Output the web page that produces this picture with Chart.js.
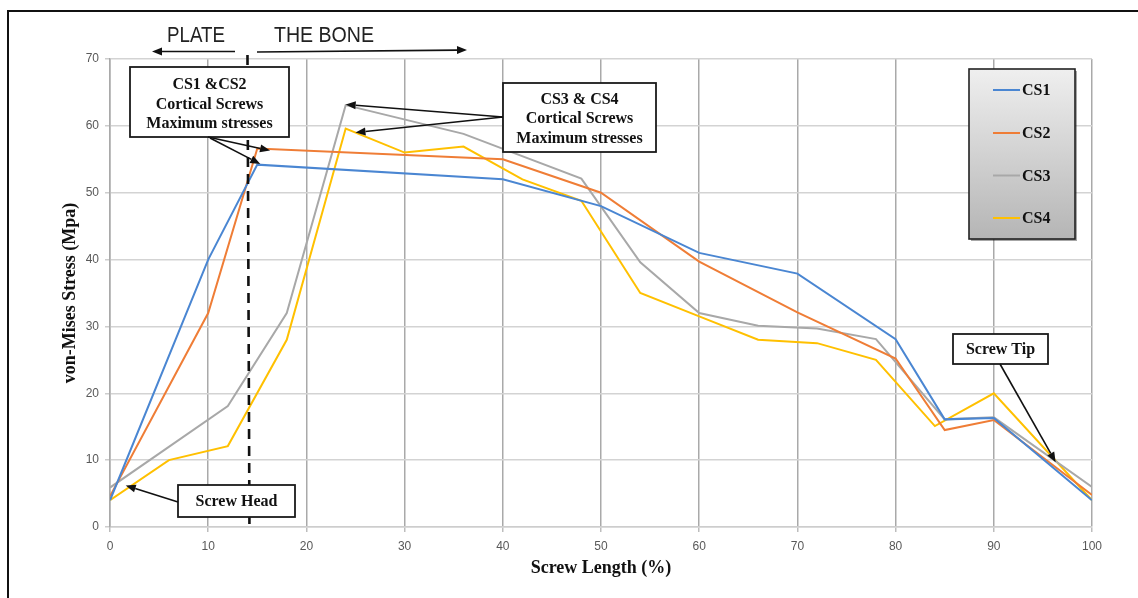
<!DOCTYPE html>
<html>
<head>
<meta charset="utf-8">
<script src="https://cdn.jsdelivr.net/npm/chart.js@4/dist/chart.umd.min.js"></script>
<style>
  html, body { margin: 0; padding: 0; background: #fff; }
  #wrap { width: 1138px; height: 598px; }
</style>
</head>
<body>
<div id="wrap"><canvas id="stressChart" width="1138" height="598"></canvas></div>
<script>
/* ============================
   DATOS
============================ */
const CS1_X = [0, 10, 15, 40, 50, 60, 70, 80, 85, 90, 100];
const CS1_Y = [4, 40, 54.2, 52, 48, 41, 37.9, 28.1, 16.1, 16.3, 4];

const CS2_X = [0, 10, 15, 40, 50, 60, 70, 80, 85, 90, 100];
const CS2_Y = [4.6, 32, 56.6, 55, 50, 39.7, 32.1, 25.2, 14.5, 16, 4.8];

const CS3_X = [0, 12, 18, 24, 36, 48, 54, 60, 66, 72, 78, 85, 90, 100];
const CS3_Y = [5.9, 18.1, 32, 63.1, 58.8, 52.1, 39.6, 32, 30.1, 29.7, 28.1, 16.1, 16.4, 6];

const CS4_X = [0, 6, 12, 18, 24, 30, 36, 42, 48, 54, 60, 66, 72, 78, 84, 90, 100];
const CS4_Y = [4, 10, 12.1, 28, 59.6, 56, 56.9, 52, 48.8, 35, 31.5, 28, 27.5, 25, 15.1, 20, 4];

const SERIES_NAMES = ["CS1", "CS2", "CS3", "CS4"];
const X_TICKS = [0, 10, 20, 30, 40, 50, 60, 70, 80, 90, 100];
const Y_TICKS = [0, 10, 20, 30, 40, 50, 60, 70];

const X_TITLE = "Screw Length (%)";
const Y_TITLE = "von-Mises Stress (Mpa)";

/* ============================
   HELPERS
============================ */
const COLORS = ["#4a86d2", "#ef7d36", "#a8a8a8", "#ffc000"];
const SERIF_B = "bold 16px 'Liberation Serif', 'DejaVu Serif', serif";

function puntos(xs, ys) {
    return xs.map((x, i) => ({ x: x, y: ys[i] }));
}

function flecha(ctx, x1, y1, x2, y2) {
    const ang = Math.atan2(y2 - y1, x2 - x1);
    const h = 10, w = 4;
    const bx = x2 - h * Math.cos(ang), by = y2 - h * Math.sin(ang);
    ctx.save();
    ctx.strokeStyle = "#111";
    ctx.fillStyle = "#111";
    ctx.lineWidth = 1.6;
    ctx.beginPath();
    ctx.moveTo(x1, y1);
    ctx.lineTo(bx, by);
    ctx.stroke();
    ctx.beginPath();
    ctx.moveTo(x2, y2);
    ctx.lineTo(bx + w * Math.sin(ang), by - w * Math.cos(ang));
    ctx.lineTo(bx - w * Math.sin(ang), by + w * Math.cos(ang));
    ctx.closePath();
    ctx.fill();
    ctx.restore();
}

function cajaTexto(ctx, x, y, w, h, lineas, lineY) {
    ctx.save();
    ctx.fillStyle = "#fff";
    ctx.fillRect(x, y, w, h);
    ctx.strokeStyle = "#1a1a1a";
    ctx.lineWidth = 1.8;
    ctx.strokeRect(x, y, w, h);
    ctx.fillStyle = "#111";
    ctx.font = SERIF_B;
    ctx.textAlign = "center";
    ctx.textBaseline = "middle";
    lineas.forEach((t, i) => ctx.fillText(t, x + w / 2, lineY[i]));
    ctx.restore();
}

// texto sans ajustado a un ancho (la fuente original es estrecha)
function textoAjustado(ctx, txt, cx, baseY, ancho) {
    ctx.save();
    ctx.font = "22px 'Liberation Sans', Arial, sans-serif";
    const m = ctx.measureText(txt).width;
    ctx.translate(cx, baseY);
    ctx.scale(ancho / m, 1);
    ctx.fillStyle = "#222";
    ctx.textAlign = "center";
    ctx.textBaseline = "alphabetic";
    ctx.fillText(txt, 0, 0);
    ctx.restore();
}

/* ============================
   PLUGIN DE ANOTACIONES
============================ */
const anotaciones = {
    id: "anotaciones",
    afterDraw(chart) {
        const ctx = chart.ctx;
        const xs = chart.scales.x, ys = chart.scales.y;
        const area = chart.chartArea;

        // marco exterior
        ctx.save();
        ctx.strokeStyle = "#111";
        ctx.lineWidth = 2;
        ctx.beginPath();
        ctx.moveTo(8, 600);
        ctx.lineTo(8, 11);
        ctx.lineTo(1140, 11);
        ctx.stroke();
        ctx.restore();

        // titulos de ejes
        ctx.save();
        ctx.fillStyle = "#111";
        ctx.font = "bold 18px 'Liberation Serif', 'DejaVu Serif', serif";
        ctx.textAlign = "center";
        ctx.textBaseline = "middle";
        ctx.fillText(X_TITLE, (area.left + area.right) / 2, 568);
        ctx.translate(70, 293);
        ctx.rotate(-Math.PI / 2);
        ctx.fillText(Y_TITLE, 0, 0);
        ctx.restore();

        // PLATE / THE BONE
        textoAjustado(ctx, "PLATE", 196, 42, 58);
        textoAjustado(ctx, "THE BONE", 324, 42, 100);
        flecha(ctx, 235, 51.5, 152, 51.5);
        flecha(ctx, 257, 52, 467, 50);

        // linea discontinua placa / hueso
        ctx.save();
        ctx.strokeStyle = "#111";
        ctx.lineWidth = 2.6;
        ctx.setLineDash([10, 7]);
        ctx.beginPath();
        ctx.moveTo(xs.getPixelForValue(14.0), 55);
        ctx.lineTo(xs.getPixelForValue(14.2), area.bottom - 2);
        ctx.stroke();
        ctx.restore();

        // CS1 & CS2
        cajaTexto(ctx, 130, 67, 159, 70,
            ["CS1 &CS2", "Cortical Screws", "Maximum stresses"], [85, 104.5, 124]);
        flecha(ctx, 208, 137, xs.getPixelForValue(16.3), ys.getPixelForValue(56.3));
        flecha(ctx, 210, 138, xs.getPixelForValue(15.3), ys.getPixelForValue(54.3));

        // CS3 & CS4
        cajaTexto(ctx, 503, 83, 153, 69,
            ["CS3 & CS4", "Cortical Screws", "Maximum stresses"], [99.5, 119, 138.5]);
        flecha(ctx, 503, 117, xs.getPixelForValue(24.0), ys.getPixelForValue(63.2));
        flecha(ctx, 503, 117, xs.getPixelForValue(25.0), ys.getPixelForValue(59.0));

        // Screw Tip
        cajaTexto(ctx, 953, 334, 95, 30, ["Screw Tip"], [349.5]);
        flecha(ctx, 1000, 364, xs.getPixelForValue(96.3), ys.getPixelForValue(9.7));

        // Screw Head
        cajaTexto(ctx, 178, 485, 117, 32, ["Screw Head"], [501.5]);
        flecha(ctx, 178, 502, xs.getPixelForValue(1.6), ys.getPixelForValue(6.2));

        // leyenda
        const lx = 969, ly = 69, lw = 106, lh = 170;
        ctx.save();
        ctx.fillStyle = "rgba(0,0,0,0.35)";
        ctx.fillRect(lx + 2, ly + 2, lw, lh);
        const g = ctx.createLinearGradient(0, ly, 0, ly + lh);
        g.addColorStop(0, "#efefef");
        g.addColorStop(1, "#b5b5b5");
        ctx.fillStyle = g;
        ctx.fillRect(lx, ly, lw, lh);
        ctx.strokeStyle = "#222";
        ctx.lineWidth = 1.6;
        ctx.strokeRect(lx, ly, lw, lh);
        const filas = [90, 133, 175.5, 218];
        SERIES_NAMES.forEach((n, i) => {
            ctx.strokeStyle = COLORS[i];
            ctx.lineWidth = 2;
            ctx.beginPath();
            ctx.moveTo(993, filas[i]);
            ctx.lineTo(1020, filas[i]);
            ctx.stroke();
            ctx.fillStyle = "#111";
            ctx.font = SERIF_B;
            ctx.textAlign = "left";
            ctx.textBaseline = "middle";
            ctx.fillText(n, 1022, filas[i] + 1);
        });
        ctx.restore();
    }
};

/* ============================
   CHART
============================ */
const seriesX = [CS1_X, CS2_X, CS3_X, CS4_X];
const seriesY = [CS1_Y, CS2_Y, CS3_Y, CS4_Y];

new Chart(document.getElementById("stressChart").getContext("2d"), {
    type: "line",
    data: {
        datasets: SERIES_NAMES.map((n, i) => ({
            label: n,
            data: puntos(seriesX[i], seriesY[i]),
            borderColor: COLORS[i],
            backgroundColor: COLORS[i],
            borderWidth: 2,
            pointRadius: 0,
            tension: 0
        }))
    },
    options: {
        responsive: false,
        devicePixelRatio: 1,
        animation: false,
        layout: { padding: { left: 0, right: 46, top: 59, bottom: 0 } },
        plugins: {
            legend: { display: false },
            tooltip: { enabled: false }
        },
        scales: {
            x: {
                type: "linear",
                min: 0,
                max: 100,
                afterFit: s => { s.height = 71; },
                afterBuildTicks: s => { s.ticks = X_TICKS.map(v => ({ value: v })); },
                grid: { color: "#a9a9a9", lineWidth: 1.5, tickLength: 5, tickColor: "#bdbdbd" },
                border: { color: "#cdcdcd", width: 1.5 },
                ticks: {
                    padding: 7,
                    maxRotation: 0,
                    color: "#595959",
                    font: { family: "'Liberation Sans', Arial, sans-serif", size: 12 }
                }
            },
            y: {
                type: "linear",
                min: 0,
                max: 70,
                afterFit: s => { s.width = 110; },
                afterBuildTicks: s => { s.ticks = Y_TICKS.map(v => ({ value: v })); },
                grid: { color: "#d3d3d3", lineWidth: 1.5, tickLength: 5, tickColor: "#cdcdcd" },
                border: { color: "#a9a9a9", width: 1.5 },
                ticks: {
                    padding: 6,
                    color: "#595959",
                    font: { family: "'Liberation Sans', Arial, sans-serif", size: 12 }
                }
            }
        }
    },
    plugins: [anotaciones]
});
</script>
</body>
</html>
